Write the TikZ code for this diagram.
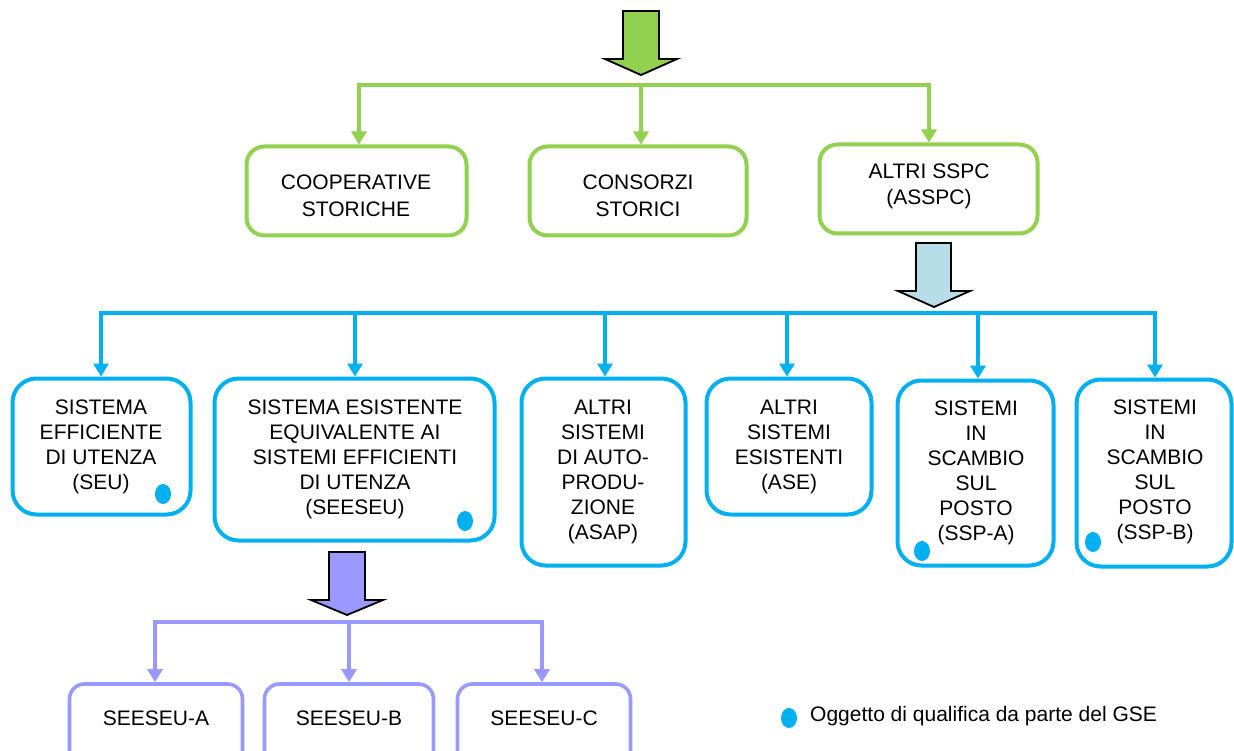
\documentclass[tikz,border=0pt]{standalone}
\usepackage{fontspec}
\setmainfont{Liberation Sans}
\usetikzlibrary{arrows.meta,shapes.geometric}
\definecolor{gcol}{HTML}{92D050}
\definecolor{bcol}{HTML}{00B0F0}
\definecolor{pcol}{HTML}{9999FF}
\definecolor{lbcol}{HTML}{B7DEE8}
\begin{document}
\begin{tikzpicture}[x=1pt,y=-1pt,
  greenbox/.style={draw=gcol, line width=4pt, rounded corners=18pt, inner sep=0pt},
  bluebox/.style={draw=bcol, line width=4pt, rounded corners=24pt, inner sep=0pt},
  purplebox/.style={draw=pcol, line width=3.6pt, rounded corners=15pt, inner sep=0pt},
  txtg/.style={align=center, inner sep=0pt, font=\fontsize{21}{27}\selectfont},
  txtb/.style={align=center, inner sep=0pt, font=\fontsize{21}{25}\selectfont},
  glink/.style={draw=gcol, line width=3.8pt, -{Triangle[width=15pt,length=13pt]}},
  blink/.style={draw=bcol, line width=4pt, -{Triangle[width=15pt,length=13pt]}},
  plink/.style={draw=pcol, line width=3.6pt, -{Triangle[width=15pt,length=13pt]}},
  qdot/.style={ellipse, fill=bcol, draw=none, minimum width=16pt, minimum height=20pt, inner sep=0pt},
  bigarrow/.style={draw=black, line width=1.8pt, line join=miter}
]
\useasboundingbox (0,0) rectangle (1234,751);
\clip (0,0) rectangle (1234,751);

% big block arrows
\draw[bigarrow, fill=gcol] (623,11) -- (659,11) -- (659,59) -- (677,59) -- (641,75) -- (605,59) -- (623,59) -- cycle;
\draw[bigarrow, fill=lbcol] (916,243) -- (951,243) -- (951,291) -- (970,291) -- (934,307) -- (898,291) -- (916,291) -- cycle;
\draw[bigarrow, fill=pcol] (329,552) -- (365,552) -- (365,600) -- (383,600) -- (347,615) -- (311,600) -- (329,600) -- cycle;

% green boxes
\node[greenbox, minimum width=220pt, minimum height=89pt] (coop) at (356.5,191) {};
\node[greenbox, minimum width=217pt, minimum height=89pt] (cons) at (638,191) {};
\node[greenbox, minimum width=218pt, minimum height=89pt] (asspc) at (928.5,189) {};
\node[txtg] (coopT) at (356,196) {COOPERATIVE\\STORICHE};
\node[txtg] (consT) at (638,196) {CONSORZI\\STORICI};
\node[txtg, font=\fontsize{21}{26}\selectfont] (asspcT) at (929,186) {ALTRI SSPC\\(ASSPC)};

% green connectors
\coordinate (gL) at (359,85);
\coordinate (gM) at (641,85);
\coordinate (gR) at (929,85);
\draw[glink] (gM) -- (gL) -- (gL |- coop.north);
\draw[glink] (gM) -- (gM |- cons.north);
\draw[glink] (gM) -- (gR) -- (gR |- asspc.north);

% blue boxes
\node[bluebox, minimum width=178pt, minimum height=136pt] (seu) at (101.5,446.5) {};
\node[bluebox, minimum width=280pt, minimum height=162pt] (seeseu) at (354.5,459.5) {};
\node[bluebox, minimum width=164pt, minimum height=187pt] (asap) at (603.5,472) {};
\node[bluebox, minimum width=165pt, minimum height=136pt] (ase) at (789,446.5) {};
\node[bluebox, minimum width=156pt, minimum height=185pt] (sspa) at (975.5,473) {};
\node[bluebox, minimum width=155pt, minimum height=187pt] (sspb) at (1154,473) {};

\node[txtb] (seuT) at (101,446.5) {SISTEMA\\EFFICIENTE\\DI UTENZA\\(SEU)};
\node[txtb] (seeseuT) at (355,459.5) {SISTEMA ESISTENTE\\EQUIVALENTE AI\\SISTEMI EFFICIENTI\\DI UTENZA\\(SEESEU)};
\node[txtb] (asapT) at (603,472) {ALTRI\\SISTEMI\\DI AUTO-\\PRODU-\\ZIONE\\(ASAP)};
\node[txtb] (aseT) at (789,446.5) {ALTRI\\SISTEMI\\ESISTENTI\\(ASE)};
\node[txtb] (sspaT) at (976,472.5) {SISTEMI\\IN\\SCAMBIO\\SUL\\POSTO\\(SSP-A)};
\node[txtb] (sspbT) at (1155,472) {SISTEMI\\IN\\SCAMBIO\\SUL\\POSTO\\(SSP-B)};

% blue connectors
\coordinate (b1) at (101,313);
\coordinate (b2) at (355,313);
\coordinate (b3) at (605,313);
\coordinate (b4) at (787,313);
\coordinate (b5) at (978,313);
\coordinate (b6) at (1155,313);
\draw[blink] (b3) -- (b1) -- (b1 |- seu.north);
\draw[blink] (b2) -- (b2 |- seeseu.north);
\draw[blink] (b3) -- (b3 |- asap.north);
\draw[blink] (b4) -- (b4 |- ase.north);
\draw[blink] (b5) -- (b5 |- sspa.north);
\draw[blink] (b3) -- (b6) -- (b6 |- sspb.north);

% qualification dots
\node[qdot] (d1) at (163,494) {};
\node[qdot] (d2) at (465,521) {};
\node[qdot] (d3) at (922,551) {};
\node[qdot] (d4) at (1093,542) {};

% purple boxes
\node[purplebox, minimum width=173pt, minimum height=140pt] (pa) at (156,754) {};
\node[purplebox, minimum width=169pt, minimum height=140pt] (pb) at (349,754) {};
\node[purplebox, minimum width=173pt, minimum height=140pt] (pc) at (544,754) {};
\node[txtb] (paT) at (156,718) {SEESEU-A};
\node[txtb] (pbT) at (349,718) {SEESEU-B};
\node[txtb] (pcT) at (544,718) {SEESEU-C};

% purple connectors
\coordinate (p1) at (155,622);
\coordinate (p2) at (349,622);
\coordinate (p3) at (542,622);
\draw[plink] (p2) -- (p1) -- (p1 |- pa.north);
\draw[plink] (p2) -- (p2 |- pb.north);
\draw[plink] (p2) -- (p3) -- (p3 |- pc.north);

% legend
\node[qdot] (ld) at (789,718) {};
\node[txtb, anchor=west] (lt) at (810,716) {Oggetto di qualifica da parte del GSE};
\end{tikzpicture}
\end{document}
